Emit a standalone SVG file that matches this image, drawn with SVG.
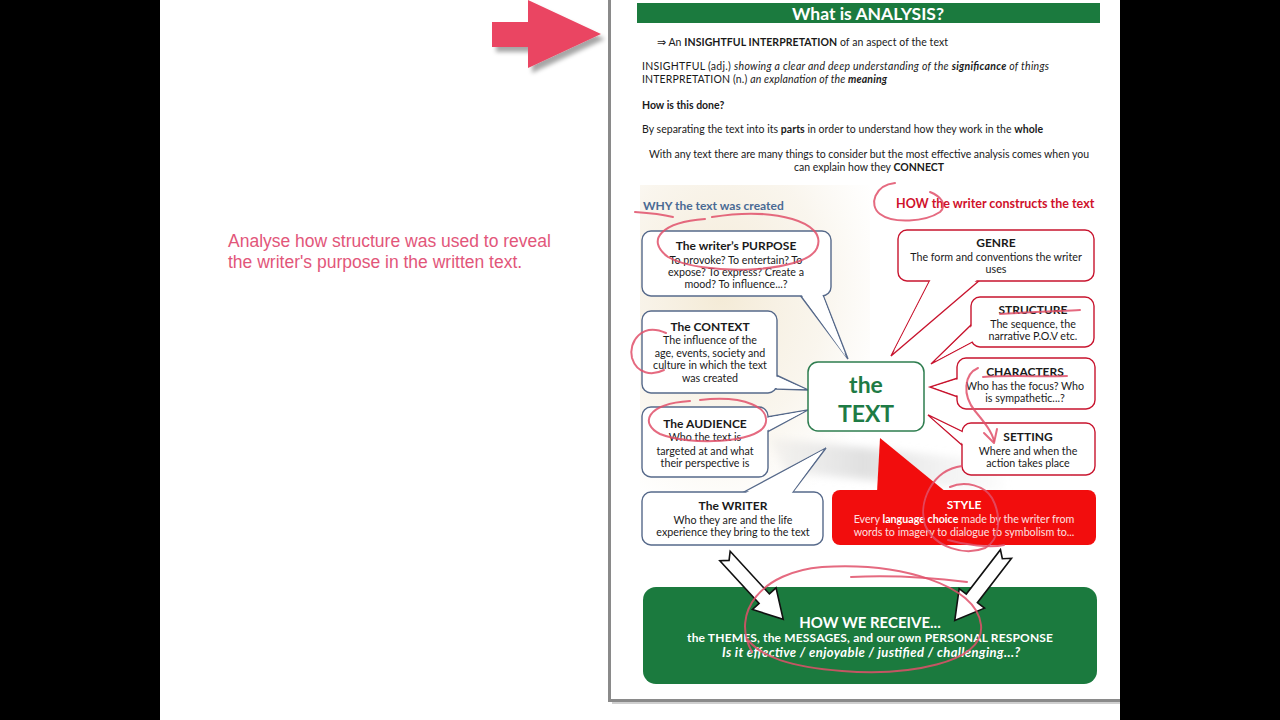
<svg xmlns="http://www.w3.org/2000/svg" width="1280" height="720" viewBox="0 0 1280 720">
<defs>
<style>
text{font-family:Lato,"Open Sans","Liberation Sans",sans-serif;fill:#1a1a1a}
.t{font-size:10.7px}
.i{font-size:10.5px}
.c{text-anchor:middle}
.h{font-weight:bold;font-size:12px}
.bl{fill:#fff;stroke:#56698a;stroke-width:1.4}
.rd{fill:#fff;stroke:#c8142e;stroke-width:1.4}
.tailw{fill:#fff;stroke:none}
.ink{fill:none;stroke:#e0506a;stroke-width:2;stroke-linecap:round;stroke-linejoin:round;opacity:.85}
.wa{fill:#fff;stroke:#111;stroke-width:1.6;stroke-linejoin:miter}
</style>
<radialGradient id="bg" cx="0.35" cy="0.35" r="0.75">
<stop offset="0" stop-color="#f2e7cf" stop-opacity=".85"/>
<stop offset="0.6" stop-color="#f4ecdc" stop-opacity=".5"/>
<stop offset="1" stop-color="#f6f0e4" stop-opacity="0"/>
</radialGradient>
<linearGradient id="pen" x1="0" y1="0" x2="1" y2="0">
<stop offset="0" stop-color="#d8d8d8" stop-opacity=".2"/>
<stop offset=".4" stop-color="#d8d8d8" stop-opacity=".8"/>
<stop offset="1" stop-color="#e4e4e4" stop-opacity=".1"/>
</linearGradient>
<filter id="sh" x="-20%" y="-20%" width="140%" height="140%">
<feDropShadow dx="4" dy="5" stdDeviation="2" flood-color="#000" flood-opacity=".35"/>
</filter>
<filter id="blur"><feGaussianBlur stdDeviation="4"/></filter>
</defs>

<rect x="0" y="0" width="1280" height="720" fill="#fff"/>
<rect x="0" y="0" width="160" height="720" fill="#000"/>
<rect x="1120" y="0" width="160" height="720" fill="#000"/>

<g id="page">
<rect x="608" y="0" width="3" height="702" fill="#8a8a8a"/>
<rect x="610" y="699" width="510" height="3" fill="#8a8a8a"/>
<rect x="612" y="702" width="508" height="2" fill="#cfcfcf"/>
<rect x="640" y="185" width="230" height="310" fill="url(#bg)"/>
<path d="M770,438 L1000,462 L1005,492 L785,472 Z" fill="url(#pen)" filter="url(#blur)"/>
</g>

<g id="pointer" filter="url(#sh)">
<polygon points="492,22 528,22 528,0 601,34 528,68 528,47 492,47" fill="#ea4562"/>
</g>

<g id="leftnote">
<text x="228" y="247" style="font-family:'Liberation Sans',Arial,sans-serif;font-size:17.5px;fill:#e2567a">Analyse how structure was used to reveal</text>
<text x="228" y="268" style="font-family:'Liberation Sans',Arial,sans-serif;font-size:17.5px;fill:#e2567a">the writer's purpose in the written text.</text>
</g>

<g id="header">
<rect x="637" y="3" width="463" height="20" fill="#1b7a3e"/>
<text x="868" y="20" class="c" style="font-size:17.5px;font-weight:bold;fill:#fff">What is ANALYSIS?</text>
</g>

<g id="intro">
<text x="657" y="46" class="i" textLength="291" lengthAdjust="spacing">⇒  An <tspan font-weight="bold">INSIGHTFUL INTERPRETATION</tspan> of an aspect of the text</text>
<text x="642" y="70" class="i" textLength="407" lengthAdjust="spacing">INSIGHTFUL (adj.) <tspan font-style="italic">showing a clear and deep understanding of the <tspan font-weight="bold">significance</tspan> of things</tspan></text>
<text x="642" y="83" class="i" textLength="245" lengthAdjust="spacing">INTERPRETATION (n.) <tspan font-style="italic">an explanation of the <tspan font-weight="bold">meaning</tspan></tspan></text>
<text x="642" y="109" class="i" font-weight="bold">How is this done?</text>
<text x="642" y="133" class="i" textLength="401" lengthAdjust="spacing">By separating the text into its <tspan font-weight="bold">parts</tspan> in order to understand how they work in the <tspan font-weight="bold">whole</tspan></text>
<text x="649" y="158" class="i" textLength="440" lengthAdjust="spacing">With any text there are many things to consider but the most effective analysis comes when you</text>
<text x="869" y="171" class="i c">can explain how they <tspan font-weight="bold">CONNECT</tspan></text>
<text x="643" y="210" style="font-size:12px;font-weight:bold;fill:#4a6a94">WHY the text was created</text>
<text x="896" y="208" style="font-size:12.5px;font-weight:bold;fill:#d0112b">HOW the writer constructs the text</text>
</g>

<g id="purpose">
<polygon class="bl" points="800,295 848,359 823,295"/>
<rect class="bl" x="642" y="231" width="189" height="65" rx="9"/>
<polygon class="tailw" points="801,294 846,357 822,294"/>
<text x="736" y="250" class="h c">The writer’s PURPOSE</text>
<text x="736" y="264" class="t c">To provoke? To entertain? To</text>
<text x="736" y="276" class="t c">expose? To express? Create a</text>
<text x="736" y="288" class="t c">mood? To influence...?</text>
</g>

<g id="context">
<polygon class="bl" points="776,375 808,390 776,389"/>
<rect class="bl" x="642" y="311" width="135" height="82" rx="9"/>
<polygon class="tailw" points="775,376 805,389 775,388"/>
<text x="710" y="331" class="h c">The CONTEXT</text>
<text x="710" y="344" class="t c">The influence of the</text>
<text x="710" y="357" class="t c">age, events, society and</text>
<text x="710" y="369" class="t c">culture in which the text</text>
<text x="710" y="382" class="t c">was created</text>
</g>

<g id="audience">
<polygon class="bl" points="767,417 808,410 767,432"/>
<rect class="bl" x="642" y="407" width="126" height="70" rx="9"/>
<polygon class="tailw" points="766,418 805,411 766,431"/>
<text x="705" y="428" class="h c">The AUDIENCE</text>
<text x="705" y="441" class="t c">Who the text is</text>
<text x="705" y="455" class="t c">targeted at and what</text>
<text x="705" y="467" class="t c">their perspective is</text>
</g>

<g id="writer">
<polygon class="bl" points="742,493 826,448 792,493"/>
<rect class="bl" x="642" y="492" width="181" height="53" rx="9"/>
<polygon class="tailw" points="744,494 823,450 791,494"/>
<text x="733" y="510" class="h c">The WRITER</text>
<text x="733" y="524" class="t c">Who they are and the life</text>
<text x="733" y="536" class="t c">experience they bring to the text</text>
</g>

<g id="genre">
<polygon class="rd" points="930,280 891,356 980,280"/>
<rect class="rd" x="898" y="230" width="196" height="51" rx="9"/>
<polygon class="tailw" points="931,279 894,351 978,279"/>
<text x="996" y="247" class="h c">GENRE</text>
<text x="996" y="261" class="t c">The form and conventions the writer</text>
<text x="996" y="273" class="t c">uses</text>
</g>

<g id="structure">
<polygon class="rd" points="972,324 931,364 972,342"/>
<rect class="rd" x="971" y="297" width="123" height="50" rx="9"/>
<polygon class="tailw" points="973,325 935,361 973,341"/>
<text x="1033" y="314" class="h c">STRUCTURE</text>
<text x="1033" y="328" class="t c">The sequence, the</text>
<text x="1033" y="340" class="t c">narrative P.O.V etc.</text>
</g>

<g id="characters">
<polygon class="rd" points="958,378 930,387 958,397"/>
<rect class="rd" x="957" y="358" width="138" height="51" rx="9"/>
<polygon class="tailw" points="959,379 933,387 959,396"/>
<text x="1025" y="376" class="h c">CHARACTERS</text>
<text x="1025" y="390" class="t c">Who has the focus? Who</text>
<text x="1025" y="402" class="t c">is sympathetic...?</text>
</g>

<g id="setting">
<polygon class="rd" points="963,432 928,415 963,446"/>
<rect class="rd" x="962" y="423" width="133" height="52" rx="9"/>
<polygon class="tailw" points="964,433 931,417 964,445"/>
<text x="1028" y="441" class="h c">SETTING</text>
<text x="1028" y="455" class="t c">Where and when the</text>
<text x="1028" y="467" class="t c">action takes place</text>
</g>

<g id="style">
<polygon points="877,492 880,438 946,492" fill="#f20d0d"/>
<rect x="832" y="490" width="264" height="55" rx="8" fill="#f20d0d"/>
<text x="964" y="509" class="h c" style="fill:#fff">STYLE</text>
<text x="964" y="523" class="t c" style="fill:#fde0e0">Every <tspan font-weight="bold" fill="#fff">language choice</tspan> made by the writer from</text>
<text x="964" y="536" class="t c" style="fill:#fde0e0">words to imagery to dialogue to symbolism to...</text>
</g>

<g id="thetext">
<rect x="808" y="362" width="116" height="69" rx="10" fill="#fff" stroke="#2e7d4f" stroke-width="1.5"/>
<text x="866" y="393" class="c" style="font-size:23px;font-weight:bold;fill:#1e7b45">the</text>
<text x="866" y="422" class="c" style="font-size:23px;font-weight:bold;fill:#1e7b45">TEXT</text>
</g>

<g id="receive">
<rect x="643" y="587" width="454" height="97" rx="13" fill="#1b7a3e"/>
<text x="870" y="628" class="c" style="font-size:15px;font-weight:bold;fill:#fff">HOW WE RECEIVE...</text>
<text x="870" y="642" class="c" style="font-size:12px;font-weight:bold;fill:#fff" textLength="366" lengthAdjust="spacing">the THEMES, the MESSAGES, and our own PERSONAL RESPONSE</text>
<text x="871" y="657" class="c" style="font-size:13px;font-weight:bold;font-style:italic;fill:#fff" textLength="298" lengthAdjust="spacing">Is it effective / enjoyable / justified / challenging...?</text>
</g>

<g id="connectors">
<polygon class="wa" transform="translate(725,556) rotate(47.4)" points="0,-7 58,-7 58,-16 86,0 58,16 58,7 0,7 6,0"/>
<polygon class="wa" transform="translate(1006,554) rotate(127.6)" points="0,-7 56,-7 56,-16 84,0 56,16 56,7 0,7 6,0"/>
</g>

<g id="annotations">
<path class="ink" d="M635,212 C650,213 665,215 673,217"/>
<path class="ink" d="M712,217 C775,207 828,222 817,248 C806,274 700,276 668,257 C645,240 662,222 705,219"/>
<path class="ink" d="M666,333 C642,322 628,342 632,358 C637,374 652,376 664,370"/>
<path class="ink" d="M700,400 C745,395 772,408 765,425 C757,443 690,446 660,434 C640,424 645,404 690,401"/>
<path class="ink" d="M895,183 C875,185 868,205 880,214 C893,224 925,222 940,212 C948,204 940,196 930,192"/>
<path class="ink" d="M1000,314 C1030,312 1060,311 1080,310"/>
<path class="ink" d="M983,377 C1010,375 1040,377 1067,376"/>
<path class="ink" d="M978,368 C964,374 962,395 975,411 C985,423 992,432 994,441"/>
<path class="ink" d="M984,433 L994,443 L997,429"/>
<path class="ink" d="M950,487 C965,480 985,486 992,498 C1002,516 1000,540 985,548 C965,556 935,548 925,525 C918,502 932,470 962,466"/>
<path class="ink" d="M948,540 C965,545 990,548 1004,545"/>
<path class="ink" d="M752,652 C730,612 762,572 822,567 C900,562 977,585 981,625 C985,664 905,676 842,671 C790,667 762,657 748,640"/>
<path class="ink" d="M851,577 C890,575 935,578 967,582"/>
</g>
</svg>
